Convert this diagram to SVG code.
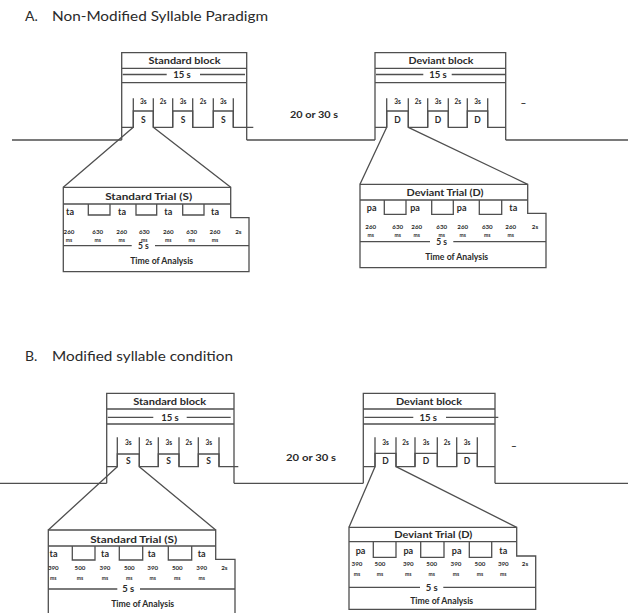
<svg xmlns="http://www.w3.org/2000/svg" width="628" height="613" viewBox="0 0 628 613">
<style>
.ln{fill:none;stroke:#4f4f4f;stroke-width:1.3}
.bx{fill:#fff;stroke:#4f4f4f;stroke-width:1.3}
text{font-family:Lato,"Open Sans","Liberation Sans",sans-serif;fill:#2a2a2a;text-anchor:middle}
.ttl{font-size:14px;text-anchor:start}
.bt{font-size:10px;font-weight:bold}
.s15{font-size:9.5px;font-weight:bold}
.s5{font-size:8.5px;font-weight:bold}
.sec{font-size:6.5px;font-weight:bold}
.sd{font-size:8.5px;font-weight:bold}
.tt{font-size:9.5px;font-weight:bold}
.syl{font-size:9px;font-weight:bold}
.num{font-size:6.2px;font-weight:bold}
.ms{font-size:5px;font-weight:bold}
.gap{font-size:9.5px;font-weight:bold}
</style>

<g id="titles">
<text class="ttl" x="25" y="21">A.</text>
<text class="ttl" x="52" y="21" textLength="216" lengthAdjust="spacingAndGlyphs">Non-Modified Syllable Paradigm</text>
<text class="ttl" x="25" y="361">B.</text>
<text class="ttl" x="52" y="361" textLength="181" lengthAdjust="spacingAndGlyphs">Modified syllable condition</text>
</g>

<g id="connectors">
<path class="ln" d="M12,140 H121.7 M246.7,140 H375 M505.7,140 H628"/>
<path class="ln" d="M0,483.3 H106.7 M234,483.3 H363.3 M495,483.3 H628"/>
<path class="ln" d="M133.3,127.3 L63.3,187.3 M153.3,127.3 L230.7,187.3"/>
<path class="ln" d="M386.7,127.3 L360,184.3 M408.3,127.3 L527.7,184.3"/>
<path class="ln" d="M117.3,466.7 L48.3,530 M139.3,466.7 L215.7,530"/>
<path class="ln" d="M375,466.7 L349,527.3 M396,466.7 L516.7,527.3"/>
</g>

<g id="gapA"><text class="gap" x="314" y="118" textLength="48" lengthAdjust="spacingAndGlyphs">20 or 30 s</text></g>
<g id="gapB"><text class="gap" x="311" y="461" textLength="50" lengthAdjust="spacingAndGlyphs">20 or 30 s</text></g>

<!-- A: Standard block -->
<g id="stdBlockA">
<path class="ln" d="M121.7,140 V52.7 H246.7 V140 M121.7,68.3 H246.7 M121.7,82.7 H246.7"/>
<text class="bt" x="184.5" y="64" textLength="72" lengthAdjust="spacingAndGlyphs">Standard block</text>
<path class="ln" d="M122.7,74.5 H166.7 M200,74.5 H245"/>
<text class="s15" x="182" y="78">15 s</text>
<path class="ln" d="M121.7,127.3 H133.3 V111 H153.3 V127.3 H172.7 V111 H192.7 V127.3 H213.3 V111 H233.3 V127.3 H253.3"/>
<path class="ln" d="M133.3,98.3 V127.3 M153.3,98.3 V127.3 M172.7,98.3 V127.3 M192.7,98.3 V127.3 M213.3,98.3 V127.3 M233.3,98.3 V127.3"/>
<text class="sec" x="143.3" y="104">3s</text><text class="sec" x="163" y="104">2s</text>
<text class="sec" x="183" y="104">3s</text><text class="sec" x="203" y="104">2s</text>
<text class="sec" x="223.3" y="104">3s</text>
<text class="sd" x="143.3" y="123">S</text><text class="sd" x="183" y="123">S</text><text class="sd" x="223.3" y="123">S</text>
</g>

<!-- A: Deviant block -->
<g id="devBlockA">
<path class="ln" d="M375,140 V52.7 H505.7 V140 M375,68.3 H505.7 M375,82.7 H505.7"/>
<text class="bt" x="441" y="64" textLength="65" lengthAdjust="spacingAndGlyphs">Deviant block</text>
<path class="ln" d="M376,74.5 H423.3 M451.7,74.5 H505.7"/>
<text class="s15" x="438" y="78">15 s</text>
<path class="ln" d="M375,127.3 H386.7 V111 H408.3 V127.3 H427.7 V111 H448.3 V127.3 H467.3 V111 H487.7 V127.3 H505.7"/>
<path class="ln" d="M386.7,98.3 V127.3 M408.3,98.3 V127.3 M427.7,98.3 V127.3 M448.3,98.3 V127.3 M467.3,98.3 V127.3 M487.7,98.3 V127.3"/>
<text class="sec" x="397.5" y="104">3s</text><text class="sec" x="418" y="104">2s</text>
<text class="sec" x="438" y="104">3s</text><text class="sec" x="457.8" y="104">2s</text>
<text class="sec" x="477.5" y="104">3s</text>
<text class="sd" x="397.5" y="123">D</text><text class="sd" x="438" y="123">D</text><text class="sd" x="477.5" y="123">D</text>
<text class="bt" x="523.3" y="106">–</text>
</g>

<!-- A: Standard trial -->
<g id="stdTrialA">
<path class="bx" d="M63.3,187.3 H230.7 V217.7 H249 V271.7 H63.3 Z"/>
<path class="ln" d="M63.3,204 H230.7"/>
<text class="tt" x="148.7" y="200" textLength="87" lengthAdjust="spacingAndGlyphs">Standard Trial (S)</text>
<path class="ln" d="M88.3,204 V215 H110 V204 M136,204 V215 H156.7 V204 M182.7,204 V215 H204 V204"/>
<text class="syl" x="70" y="214.5">ta</text><text class="syl" x="122" y="214.5">ta</text>
<text class="syl" x="168.3" y="214.5">ta</text><text class="syl" x="215" y="214.5">ta</text>
<text class="num" x="69" y="234">260</text><text class="num" x="97.7" y="234">630</text>
<text class="num" x="121.7" y="234">260</text><text class="num" x="144.3" y="234">630</text>
<text class="num" x="168.3" y="234">260</text><text class="num" x="191.7" y="234">630</text>
<text class="num" x="215" y="234">260</text><text class="num" x="238.3" y="234">2s</text>
<text class="ms" x="69" y="241.5">ms</text><text class="ms" x="97.7" y="241.5">ms</text>
<text class="ms" x="121.7" y="241.5">ms</text><text class="ms" x="144.3" y="241.5">ms</text>
<text class="ms" x="168.3" y="241.5">ms</text><text class="ms" x="191.7" y="241.5">ms</text>
<text class="ms" x="215" y="241.5">ms</text>
<path class="ln" d="M63.3,245.7 H131.7 M155,245.7 H249"/>
<text class="s5" x="143.3" y="249.2">5 s</text>
<text class="tt" x="161.7" y="264" textLength="63" lengthAdjust="spacingAndGlyphs">Time of Analysis</text>
</g>

<!-- A: Deviant trial -->
<g id="devTrialA">
<path class="bx" d="M360,184.3 H527.7 V213.3 H546 V267.7 H360 Z"/>
<path class="ln" d="M360,200 H527.7"/>
<text class="tt" x="445" y="196" textLength="77" lengthAdjust="spacingAndGlyphs">Deviant Trial (D)</text>
<path class="ln" d="M384.3,200 V214.3 H406 V200 M431.7,200 V214.3 H453.3 V200 M479.3,200 V214.3 H501.7 V200"/>
<text class="syl" x="371.7" y="211">pa</text><text class="syl" x="415" y="211">pa</text>
<text class="syl" x="461.7" y="211">pa</text><text class="syl" x="513.3" y="211">ta</text>
<text class="num" x="370.7" y="229">260</text><text class="num" x="397.7" y="229">630</text>
<text class="num" x="416.7" y="229">260</text><text class="num" x="441.7" y="229">630</text>
<text class="num" x="462.7" y="229">260</text><text class="num" x="487.3" y="229">630</text>
<text class="num" x="510.7" y="229">260</text><text class="num" x="535" y="229">2s</text>
<text class="ms" x="370.7" y="237">ms</text><text class="ms" x="397.7" y="237">ms</text>
<text class="ms" x="416.7" y="237">ms</text><text class="ms" x="441.7" y="237">ms</text>
<text class="ms" x="462.7" y="237">ms</text><text class="ms" x="487.3" y="237">ms</text>
<text class="ms" x="510.7" y="237">ms</text>
<path class="ln" d="M360,241.7 H430 M453.3,241.7 H546"/>
<text class="s5" x="441.7" y="245.2">5 s</text>
<text class="tt" x="456.7" y="260" textLength="63" lengthAdjust="spacingAndGlyphs">Time of Analysis</text>
</g>

<!-- B: Standard block -->
<g id="stdBlockB">
<path class="ln" d="M106.7,483.3 V393.3 H234 V483.3 M106.7,409 H234 M106.7,424 H234"/>
<text class="bt" x="169.7" y="405" textLength="73" lengthAdjust="spacingAndGlyphs">Standard block</text>
<path class="ln" d="M107.7,417.3 H153.3 M186.7,417.3 H230.7"/>
<text class="s15" x="170" y="421">15 s</text>
<path class="ln" d="M106.7,466.7 H117.3 V454 H139.3 V466.7 H158.3 V454 H179 V466.7 H198.3 V454 H219 V466.7 H238.3"/>
<path class="ln" d="M117.3,437.3 V466.7 M139.3,437.3 V466.7 M158.3,437.3 V466.7 M179,437.3 V466.7 M198.3,437.3 V466.7 M219,437.3 V466.7"/>
<text class="sec" x="128.3" y="445">3s</text><text class="sec" x="148.8" y="445">2s</text>
<text class="sec" x="168.7" y="445">3s</text><text class="sec" x="188.7" y="445">2s</text>
<text class="sec" x="208.7" y="445">3s</text>
<text class="sd" x="128.3" y="464">S</text><text class="sd" x="168.7" y="464">S</text><text class="sd" x="208.7" y="464">S</text>
</g>

<!-- B: Deviant block -->
<g id="devBlockB">
<path class="ln" d="M363.3,483.3 V393.3 H495 V483.3 M363.3,409 H495 M363.3,424 H495"/>
<text class="bt" x="429" y="405" textLength="66" lengthAdjust="spacingAndGlyphs">Deviant block</text>
<path class="ln" d="M364.3,417.3 H413.3 M446,417.3 H498.3"/>
<text class="s15" x="428.3" y="421">15 s</text>
<path class="ln" d="M363.3,466.7 H375 V453.3 H396 V466.7 H415 V453.3 H437.3 V466.7 H456.7 V453.3 H477.3 V466.7 H495"/>
<path class="ln" d="M375,437.3 V466.7 M396,437.3 V466.7 M415,437.3 V466.7 M437.3,437.3 V466.7 M456.7,437.3 V466.7 M477.3,437.3 V466.7"/>
<text class="sec" x="385.5" y="445">3s</text><text class="sec" x="405.5" y="445">2s</text>
<text class="sec" x="426" y="445">3s</text><text class="sec" x="447" y="445">2s</text>
<text class="sec" x="467" y="445">3s</text>
<text class="sd" x="385.5" y="464">D</text><text class="sd" x="426" y="464">D</text><text class="sd" x="467" y="464">D</text>
<text class="bt" x="514" y="449">–</text>
</g>

<!-- B: Standard trial -->
<g id="stdTrialB">
<path class="bx" d="M48.3,613 V530 H215.7 V559.3 H235 V613"/>
<path class="ln" d="M48.3,546 H215.7"/>
<text class="tt" x="133.7" y="542.5" textLength="87" lengthAdjust="spacingAndGlyphs">Standard Trial (S)</text>
<path class="ln" d="M72.3,546 V560 H95 V546 M119.3,546 V560 H142.7 V546 M168.3,546 V560 H191.7 V546"/>
<text class="syl" x="53.5" y="556.5">ta</text><text class="syl" x="105" y="556.5">ta</text>
<text class="syl" x="151.7" y="556.5">ta</text><text class="syl" x="201.7" y="556.5">ta</text>
<text class="num" x="53.3" y="569.5">390</text><text class="num" x="80" y="569.5">500</text>
<text class="num" x="105" y="569.5">390</text><text class="num" x="129.3" y="569.5">500</text>
<text class="num" x="152.7" y="569.5">390</text><text class="num" x="177.3" y="569.5">500</text>
<text class="num" x="201.7" y="569.5">390</text><text class="num" x="224.3" y="569.5">2s</text>
<text class="ms" x="53.3" y="579.5">ms</text><text class="ms" x="80" y="579.5">ms</text>
<text class="ms" x="105" y="579.5">ms</text><text class="ms" x="129.3" y="579.5">ms</text>
<text class="ms" x="152.7" y="579.5">ms</text><text class="ms" x="177.3" y="579.5">ms</text>
<text class="ms" x="201.7" y="579.5">ms</text>
<path class="ln" d="M48.3,589 H117.3 M140,589 H235"/>
<text class="s15" x="128.3" y="592.3">5 s</text>
<text class="tt" x="142.7" y="606.5" textLength="63" lengthAdjust="spacingAndGlyphs">Time of Analysis</text>
</g>

<!-- B: Deviant trial -->
<g id="devTrialB">
<path class="bx" d="M349,527.3 H516.7 V556 H535.7 V609.3 H349 Z"/>
<path class="ln" d="M349,541.7 H516.7"/>
<text class="tt" x="433.3" y="538" textLength="78" lengthAdjust="spacingAndGlyphs">Deviant Trial (D)</text>
<path class="ln" d="M373.3,541.7 V557.3 H396 V541.7 M420.7,541.7 V557.3 H444 V541.7 M469.3,541.7 V557.3 H491.7 V541.7"/>
<text class="syl" x="360.5" y="553.5">pa</text><text class="syl" x="408.3" y="553.5">pa</text>
<text class="syl" x="456.7" y="553.5">pa</text><text class="syl" x="503.3" y="553.5">ta</text>
<text class="num" x="357" y="565.5">390</text><text class="num" x="380" y="565.5">500</text>
<text class="num" x="408.3" y="565.5">390</text><text class="num" x="431.7" y="565.5">500</text>
<text class="num" x="456" y="565.5">390</text><text class="num" x="480" y="565.5">500</text>
<text class="num" x="503.3" y="565.5">390</text><text class="num" x="525" y="565.5">2s</text>
<text class="ms" x="357" y="575.5">ms</text><text class="ms" x="380" y="575.5">ms</text>
<text class="ms" x="408.3" y="575.5">ms</text><text class="ms" x="431.7" y="575.5">ms</text>
<text class="ms" x="456" y="575.5">ms</text><text class="ms" x="480" y="575.5">ms</text>
<text class="ms" x="503.3" y="575.5">ms</text>
<path class="ln" d="M349,587.3 H420 M443.3,587.3 H535.7"/>
<text class="s15" x="431.7" y="590.6">5 s</text>
<text class="tt" x="441.7" y="604" textLength="63" lengthAdjust="spacingAndGlyphs">Time of Analysis</text>
</g>
</svg>
